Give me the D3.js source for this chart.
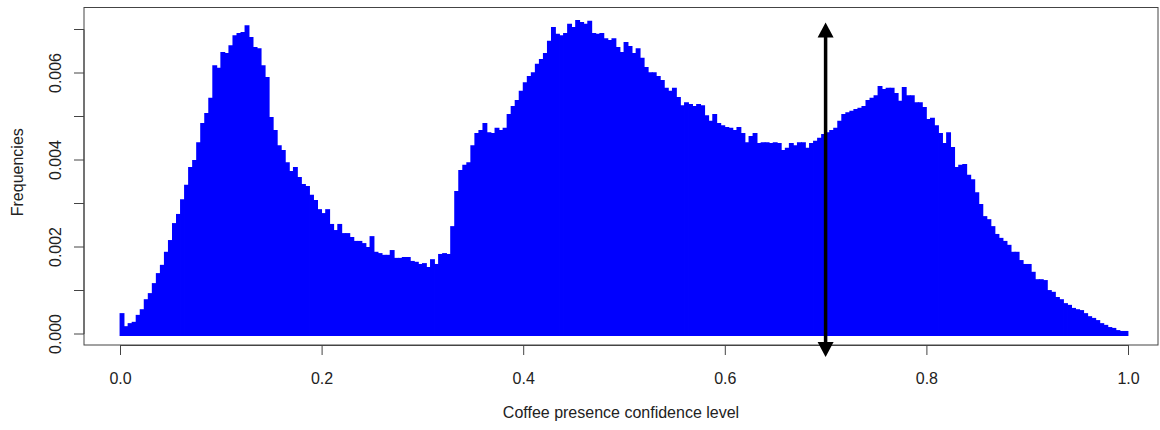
<!DOCTYPE html>
<html><head><meta charset="utf-8">
<script src="https://cdn.jsdelivr.net/npm/d3@7"></script>
<style>
body{margin:0;background:#fff}
svg{display:block}
text{font-family:"Liberation Sans",Arial,sans-serif;fill:#222;font-size:16px}
</style>
</head><body>
<svg id="chart" width="1160" height="430"></svg>
<script>
// histogram bins: width 0.004, first bin centre 0.002
const binWidth = 0.004;
const binStart = 0.002;
const freq = [
0.00048,0.00018,0.00025,0.00028,0.00044,0.00057,0.00080,0.00094,0.00117,0.00140,
0.00159,0.00189,0.00216,0.00255,0.00276,0.00310,0.00343,0.00384,0.00400,0.00441,
0.00485,0.00508,0.00543,0.00618,0.00612,0.00648,0.00646,0.00664,0.00687,0.00692,
0.00694,0.00710,0.00683,0.00660,0.00657,0.00618,0.00591,0.00499,0.00469,0.00434,
0.00423,0.00395,0.00375,0.00384,0.00361,0.00345,0.00340,0.00320,0.00308,0.00287,
0.00278,0.00287,0.00253,0.00239,0.00253,0.00232,0.00232,0.00223,0.00214,0.00214,
0.00209,0.00200,0.00225,0.00189,0.00186,0.00182,0.00182,0.00193,0.00175,0.00175,
0.00177,0.00177,0.00168,0.00166,0.00161,0.00163,0.00154,0.00172,0.00161,0.00184,
0.00186,0.00184,0.00248,0.00329,0.00377,0.00389,0.00395,0.00434,0.00462,0.00469,
0.00485,0.00464,0.00462,0.00474,0.00469,0.00474,0.00506,0.00524,0.00538,0.00559,
0.00579,0.00593,0.00602,0.00621,0.00632,0.00646,0.00674,0.00706,0.00690,0.00687,
0.00692,0.00713,0.00706,0.00722,0.00717,0.00713,0.00720,0.00692,0.00690,0.00692,
0.00680,0.00676,0.00680,0.00660,0.00648,0.00671,0.00662,0.00646,0.00657,0.00635,
0.00614,0.00602,0.00602,0.00593,0.00584,0.00566,0.00559,0.00566,0.00545,0.00526,
0.00533,0.00529,0.00524,0.00529,0.00526,0.00503,0.00490,0.00506,0.00485,0.00480,
0.00476,0.00474,0.00469,0.00476,0.00462,0.00441,0.00455,0.00462,0.00439,0.00441,
0.00441,0.00439,0.00441,0.00439,0.00423,0.00428,0.00439,0.00434,0.00441,0.00441,
0.00428,0.00439,0.00444,0.00451,0.00460,0.00464,0.00469,0.00474,0.00490,0.00506,
0.00510,0.00513,0.00517,0.00520,0.00524,0.00538,0.00543,0.00549,0.00570,0.00563,
0.00566,0.00566,0.00554,0.00536,0.00568,0.00549,0.00549,0.00533,0.00533,0.00522,
0.00494,0.00497,0.00480,0.00462,0.00439,0.00464,0.00430,0.00384,0.00389,0.00391,
0.00366,0.00356,0.00326,0.00299,0.00271,0.00264,0.00248,0.00230,0.00221,0.00214,
0.00205,0.00189,0.00189,0.00170,0.00161,0.00161,0.00143,0.00126,0.00126,0.00124,
0.00101,0.00097,0.00085,0.00080,0.00071,0.00067,0.00060,0.00057,0.00055,0.00048,
0.00041,0.00037,0.00032,0.00025,0.00021,0.00016,0.00014,0.00009,0.00007,0.00007
];
const xTicks = [0.0, 0.2, 0.4, 0.6, 0.8, 1.0];
const yTicks = [0.000, 0.001, 0.002, 0.003, 0.004, 0.005, 0.006, 0.007];
const yLabelTicks = [0.000, 0.002, 0.004, 0.006];
const arrowX = [0.7];
const arrowYRange = [-0.00053, 0.00716];
const xTitle = "Coffee presence confidence level";
const yTitle = "Frequencies";

const svg = d3.select("#chart");
const box = {left: 84, right: 1158, top: 7.5, bottom: 345};
const x = d3.scaleLinear().domain([0, 1]).range([120, 1128]);
const y = d3.scaleLinear().domain([0, 0.007]).range([334, 29.5]);

const data = freq.map((v, i) => ({x: binStart + binWidth * i, v}));

// vertical lines (type = "h")
svg.append("g").selectAll("line").data(data).join("line")
  .attr("x1", d => x(d.x)).attr("x2", d => x(d.x))
  .attr("y1", y(0) + 2).attr("y2", d => y(d.v))
  .attr("stroke", "#0000ff").attr("stroke-width", 4.9).attr("stroke-linecap", "butt");

// box
svg.append("rect").attr("x", box.left).attr("y", box.top)
  .attr("width", box.right - box.left).attr("height", box.bottom - box.top)
  .attr("fill", "none").attr("stroke", "#444").attr("stroke-width", 1);

// x axis
const xAxis = d3.axisBottom(x).tickValues(xTicks).tickFormat(d3.format(".1f"))
  .tickSize(10).tickSizeOuter(0).tickPadding(17.6);
const gx = svg.append("g").attr("transform", `translate(0,${box.bottom})`).call(xAxis);
gx.select(".domain").attr("stroke", "#444");
gx.selectAll(".tick line").attr("stroke", "#444");
gx.selectAll("text").attr("font-size", 16).attr("font-family", '"Liberation Sans",Arial,sans-serif').attr("fill", "#222");

// y axis
const gy = svg.append("g");
gy.append("line").attr("x1", box.left).attr("x2", box.left)
  .attr("y1", y(yTicks[0])).attr("y2", y(yTicks[yTicks.length - 1])).attr("stroke", "#444");
gy.selectAll("line.tk").data(yTicks).join("line").attr("class", "tk")
  .attr("x1", box.left).attr("x2", box.left - 10)
  .attr("y1", d => y(d)).attr("y2", d => y(d)).attr("stroke", "#444");
gy.selectAll("text").data(yLabelTicks).join("text")
  .attr("transform", d => `translate(61,${y(d)}) rotate(-90)`)
  .attr("text-anchor", "middle")
  .text(d => d3.format(".3f")(d));

// axis titles
svg.append("text").attr("x", (box.left + box.right) / 2).attr("y", 418)
  .attr("text-anchor", "middle").text(xTitle);
svg.append("text").attr("transform", `translate(23,${(box.top + box.bottom) / 2 - 4}) rotate(-90)`)
  .attr("text-anchor", "middle").text(yTitle);

// double-headed arrow
const ax = x(arrowX[0]);
const yTop = y(arrowYRange[1]), yBot = y(arrowYRange[0]);
const headLen = 15, headHalf = 8;
svg.append("line").attr("x1", ax).attr("x2", ax)
  .attr("y1", yTop + headLen - 1).attr("y2", yBot - headLen + 1)
  .attr("stroke", "#000").attr("stroke-width", 3.5);
svg.append("path")
  .attr("d", `M${ax},${yTop} L${ax - headHalf},${yTop + headLen} L${ax + headHalf},${yTop + headLen} Z`)
  .attr("fill", "#000");
svg.append("path")
  .attr("d", `M${ax},${yBot} L${ax - headHalf},${yBot - headLen} L${ax + headHalf},${yBot - headLen} Z`)
  .attr("fill", "#000");
</script>
</body></html>
